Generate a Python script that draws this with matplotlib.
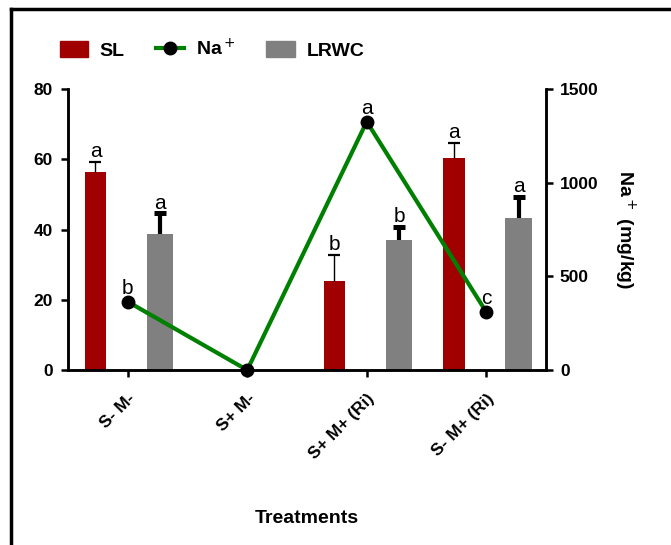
import matplotlib
matplotlib.use("Agg")
import matplotlib.pyplot as plt
from matplotlib.lines import Line2D
from matplotlib.patches import Patch
import numpy as np

plt.rcParams['font.family'] = ['Liberation Sans', 'DejaVu Sans']

treatments = ["S- M-", "S+ M-", "S+ M+ (Ri)", "S- M+ (Ri)"]
sl = [56.3, 0, 25.3, 60.4]
sl_err = [3.0, 0, 7.5, 4.2]
sl_letters = ["a", "", "b", "a"]
lrwc = [38.6, 0, 36.9, 43.2]
lrwc_err = [6.0, 0, 3.8, 6.2]
lrwc_letters = ["a", "", "b", "a"]
na = [365, 0, 1326, 310]
na_letters = ["b", "", "a", "c"]

red = "#a00000"
grey = "#808080"
green = "#008000"

fig = plt.figure(figsize=(6.71, 5.45), dpi=100)
ax = fig.add_axes([0.1013, 0.321, 0.7124, 0.5156])
ax2 = ax.twinx()

x = np.arange(len(treatments))
off = 0.27
ax.bar(x - off, sl, width=0.18, color=red, zorder=2)
ax.bar(x + off, lrwc, width=0.22, color=grey, zorder=2)


def upper_error(xs, vals, errs, lw, capw):
    """Draw upward-only error bars with a single cap at the top."""
    for xi, v, e in zip(xs, vals, errs):
        if v > 0:
            ax.errorbar(xi, v, yerr=[[0], [e]], fmt='none', ecolor='black',
                        elinewidth=lw, capsize=0, zorder=3)
            ax.plot([xi], [v + e], marker='_', ms=capw, mew=lw + 0.6,
                    color='black', zorder=3)


upper_error(x - off, sl, sl_err, 1.0, 8)
upper_error(x + off, lrwc, lrwc_err, 3.0, 8)

for xi, v, e, t in zip(x, sl, sl_err, sl_letters):
    if t:
        ax.text(xi - off, v + e + 0.2, t, ha='center', va='bottom', fontsize=15)
for xi, v, e, t in zip(x, lrwc, lrwc_err, lrwc_letters):
    if t:
        ax.text(xi + off, v + e + 0.2, t, ha='center', va='bottom', fontsize=15)

ax2.plot(x, na, color=green, lw=3, marker='o', ms=9, mfc='black', mec='black',
         zorder=4, clip_on=False)
for xi, v, t in zip(x, na, na_letters):
    if t:
        ax2.text(xi, v + 20, t, ha='center', va='bottom', fontsize=15)

ax.set_xlim(-0.5, 3.5)
ax.set_ylim(0, 80)
ax.set_yticks([0, 20, 40, 60, 80])
ax2.set_ylim(0, 1500)
ax2.set_yticks([0, 500, 1000, 1500])
ax.set_xticks(x)
ax.set_xticklabels(treatments, rotation=45, ha='right', rotation_mode='anchor',
                   fontsize=12.5, fontweight='bold')

for a in (ax, ax2):
    a.spines['top'].set_visible(False)
    for s in ('left', 'right', 'bottom'):
        a.spines[s].set_linewidth(1.8)
    a.tick_params(width=1.8, length=5, labelsize=12.5)
for lbl in ax.get_yticklabels() + ax2.get_yticklabels():
    lbl.set_fontweight('bold')
ax.tick_params(axis='x', pad=10)
ax.tick_params(axis='y', pad=6)
ax2.tick_params(axis='y', pad=5)

ax2.set_ylabel("Na$^+$ (mg/kg)", rotation=-90, fontsize=14, fontweight='bold',
               labelpad=28)
ax.set_xlabel("Treatments", fontsize=14, fontweight='bold', labelpad=35)

handles = [Patch(color=red, label="SL"),
           Line2D([], [], color=green, lw=3, marker='o', ms=9, mfc='black',
                  mec='black', label="Na$^+$"),
           Patch(color=grey, label="LRWC")]
fig.legend(handles=handles, loc='center left', bbox_to_anchor=(0.089, 0.91),
           ncol=3, frameon=False, prop={'weight': 'bold', 'size': 14},
           handlelength=1.45, handleheight=0.9, columnspacing=1.6,
           handletextpad=0.6, borderpad=0, borderaxespad=0)

fig.add_artist(Line2D([0.0164, 1.0], [0.9835, 0.9835], color='black', lw=2.5,
                      transform=fig.transFigure))
fig.add_artist(Line2D([0.0164, 0.0164], [0.0, 0.9835], color='black', lw=2.5,
                      transform=fig.transFigure))

fig.savefig("out.png", dpi=100)
